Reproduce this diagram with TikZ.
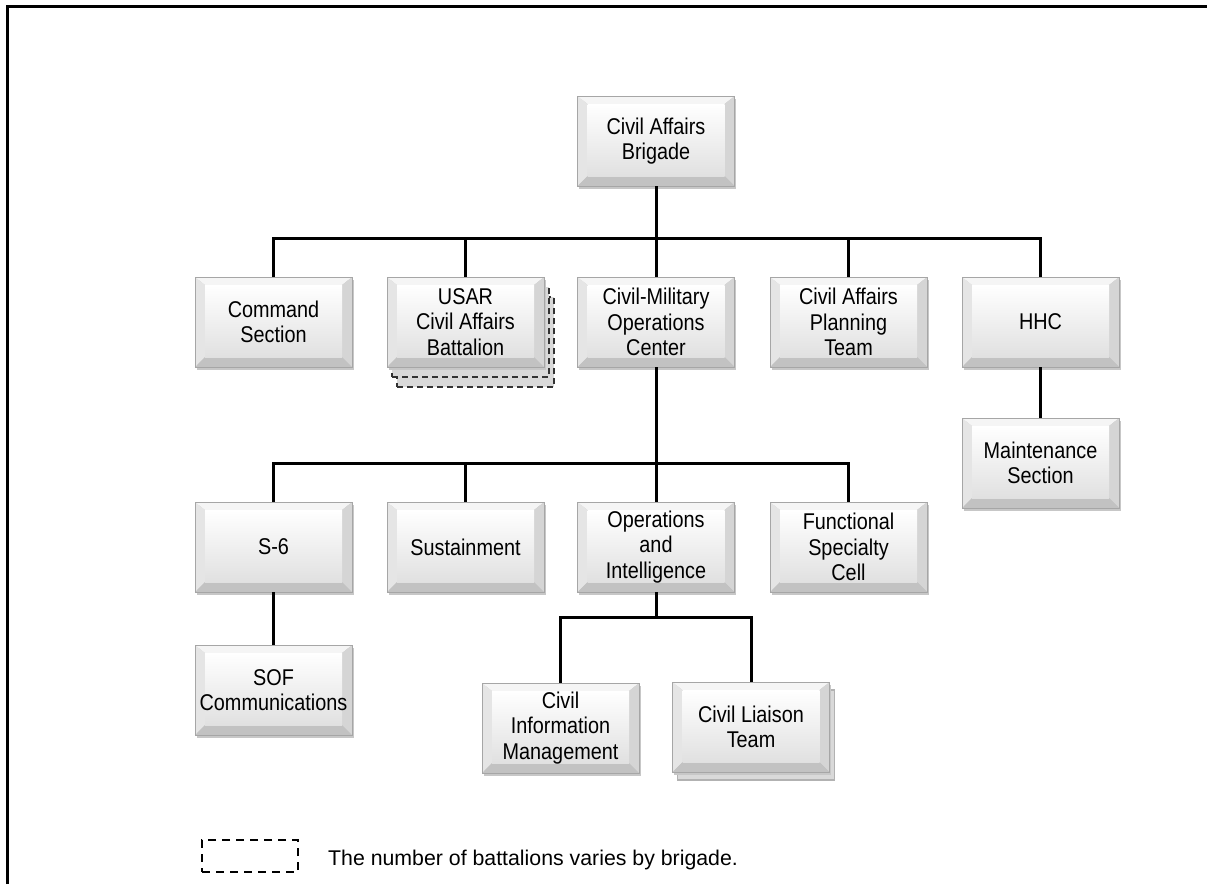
\documentclass[tikz,border=0pt]{standalone}
\usepackage{fontspec}
\setmainfont{Liberation Sans}
\newfontfamily\boxfontfam{Liberation Sans}[FakeStretch=0.87]
\newcommand\boxfont{\boxfontfam\fontsize{22.8}{25.5}\selectfont}
\newcommand\legfont{\fontsize{21.3}{25.5}\selectfont}
\usetikzlibrary{shadows}
\begin{document}
\begin{tikzpicture}[x=1pt,y=-1pt,
  conn/.style={line width=3pt, black},
  bev/.style={minimum width=157pt, minimum height=90pt, inner sep=1pt, align=center,
    font=\boxfont, draw=gray!70, line width=0.5pt,
    general shadow={fill=black!22, shadow xshift=1.5pt, shadow yshift=-2.5pt},
    path picture={
      \coordinate (bvA) at (path picture bounding box.north west);
      \coordinate (bvB) at (path picture bounding box.north east);
      \coordinate (bvC) at (path picture bounding box.south east);
      \coordinate (bvD) at (path picture bounding box.south west);
      \fill[gray!8] (bvA) -- (bvB) -- ([shift={(-10pt,-8pt)}]bvB) -- ([shift={(10pt,-8pt)}]bvA) -- cycle;
      \fill[gray!20] (bvA) -- (bvD) -- ([shift={(10pt,10pt)}]bvD) -- ([shift={(10pt,-8pt)}]bvA) -- cycle;
      \fill[gray!33] (bvB) -- (bvC) -- ([shift={(-10pt,10pt)}]bvC) -- ([shift={(-10pt,-8pt)}]bvB) -- cycle;
      \fill[gray!48] (bvD) -- (bvC) -- ([shift={(-10pt,10pt)}]bvC) -- ([shift={(10pt,10pt)}]bvD) -- cycle;
      \shade[top color=white, bottom color=gray!24]
        ([shift={(10pt,-8pt)}]bvA) rectangle ([shift={(-10pt,10pt)}]bvC);
    }},
  layer/.style={minimum width=157pt, minimum height=90pt, fill=gray!30, draw=gray!60, line width=1.2pt},
  stack/.style={layer, draw=gray!40!black, dash pattern=on 6pt off 4pt}
]
\useasboundingbox (0,0) rectangle (1207,884);
% frame
\draw[line width=3pt] (7.5,884) -- (7.5,6.5) -- (1207,6.5);

% stacked layers
\node[stack] (u2) at (475.5,342) {};
\node[stack] (u1) at (470.5,332) {};
\node[layer] (c1) at (756,735) {};

% boxes
\node[bev] (brig) at (656,141) {Civil Affairs\\Brigade};
\node[bev] (cs)   at (273.5,322) {Command\\Section};
\node[bev] (usar) at (465.5,322) {USAR\\Civil Affairs\\Battalion};
\node[bev] (cmoc) at (656,322) {Civil-Military\\Operations\\Center};
\node[bev] (capt) at (848.5,322) {Civil Affairs\\Planning\\Team};
\node[bev] (hhc)  at (1040.5,322) {HHC};
\node[bev] (maint) at (1040.5,463) {Maintenance\\Section};
\node[bev] (s6)   at (273.5,547) {S-6};
\node[bev] (sus)  at (465.5,547) {Sustainment};
\node[bev] (oi)   at (656,547) {Operations\\and\\Intelligence};
\node[bev] (fsc)  at (848.5,547) {Functional\\Specialty\\Cell};
\node[bev] (sof)  at (273.5,690) {SOF\\Communications};
\node[bev] (cim)  at (560.5,728) {Civil\\Information\\Management};
\node[bev] (clt)  at (751,727) {Civil Liaison\\Team};

% bus coordinates
\coordinate (b1) at (656,238);
\coordinate (b2) at (656,463);
\coordinate (b3) at (656,617);

% connectors
\draw[conn] (brig.south) -- (cmoc.north);
\draw[conn] (cs.north) |- (b1) -| (hhc.north);
\draw[conn] (usar.north) -- (usar.north |- b1);
\draw[conn] (capt.north) -- (capt.north |- b1);
\draw[conn] (hhc.south) -- (maint.north);
\draw[conn] (cmoc.south) -- (oi.north);
\draw[conn] (s6.north) |- (b2) -| (fsc.north);
\draw[conn] (sus.north) -- (sus.north |- b2);
\draw[conn] (s6.south) -- (sof.north);
\draw[conn] (oi.south) -- (b3);
\draw[conn] (cim.north) |- (b3) -| (clt.north);

% legend
\node[draw, line width=2.5pt, dash pattern=on 8pt off 6pt, minimum width=96pt, minimum height=32pt, inner sep=0pt] (leg) at (250,856) {};
\node[anchor=base west, font=\legfont, inner sep=0pt] (legt) at (328,865) {The number of battalions varies by brigade.};
\end{tikzpicture}
\end{document}
